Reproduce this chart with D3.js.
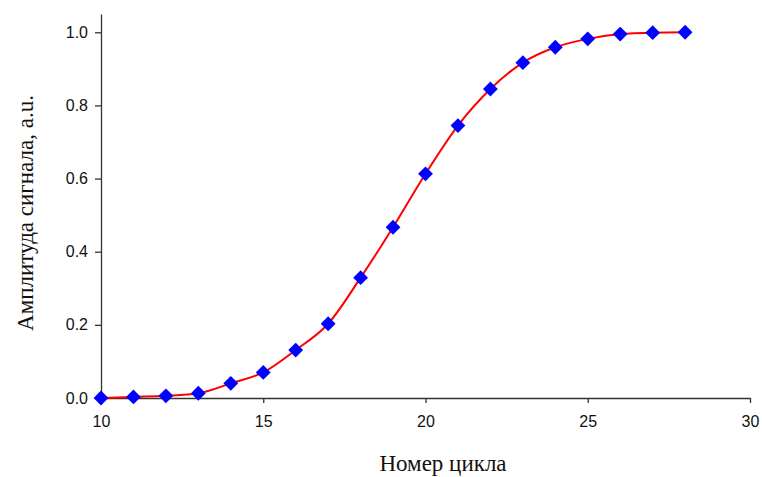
<!DOCTYPE html>
<html>
<head>
<meta charset="utf-8">
<script src="https://cdn.jsdelivr.net/npm/d3@7"></script>
<style>
  body { margin: 0; background: #fff; }
  .axis text { font-family: "Liberation Sans", Arial, sans-serif; font-size: 16px; fill: #111; }
  .axis path, .axis line { stroke: #333; stroke-width: 1.3px; }
  .title { font-family: "Liberation Serif", "Times New Roman", serif; font-size: 23px; fill: #111; }
</style>
</head>
<body>
<svg id="chart" width="762" height="477"></svg>
<script>
var cycles = [10, 11, 12, 13, 14, 15, 16, 17, 18, 19, 20, 21, 22, 23, 24, 25, 26, 27, 28];
var amplitude = [0.0, 0.003, 0.006, 0.013, 0.040, 0.070, 0.131, 0.203, 0.329, 0.467, 0.613,
                 0.745, 0.845, 0.917, 0.959, 0.982, 0.995, 0.999, 1.0];
var xTicks = [10, 15, 20, 25, 30];
var yTicks = [0, 0.2, 0.4, 0.6, 0.8, 1.0];

var svg = d3.select('#chart');

var x = d3.scaleLinear().domain([10, 30]).range([101, 750]);
var y = d3.scaleLinear().domain([0, 1.05]).range([398, 14]);

var data = cycles.map(function(c, i) { return {x: c, y: amplitude[i]}; });

svg.append("g")
  .attr("class", "axis x")
  .attr("transform", "translate(0,398)")
  .call(d3.axisBottom(x).tickValues(xTicks).tickSize(5).tickSizeOuter(0).tickPadding(13));

svg.append("g")
  .attr("class", "axis y")
  .attr("transform", "translate(101,0)")
  .call(d3.axisLeft(y).tickValues(yTicks).tickFormat(d3.format(".1f")).tickSize(6).tickSizeOuter(0).tickPadding(7));

var line = d3.line()
  .x(function(d) { return x(d.x); })
  .y(function(d) { return y(d.y); })
  .curve(d3.curveMonotoneX);

svg.append("path")
  .datum(data)
  .attr("d", line)
  .attr("fill", "none")
  .attr("stroke", "#ff0000")
  .attr("stroke-width", 2);

var diamond = d3.symbol().type(d3.symbolSquare).size(110);
svg.selectAll(".pt")
  .data(data)
  .enter().append("path")
  .attr("class", "pt")
  .attr("d", diamond)
  .attr("transform", function(d) { return "translate(" + x(d.x) + "," + y(d.y) + ") rotate(45)"; })
  .attr("fill", "#0000ff");

svg.append("text")
  .attr("class", "title")
  .attr("transform", "translate(33,213) rotate(-90)")
  .attr("text-anchor", "middle")
  .text("Амплитуда сигнала, a.u.");

svg.append("text")
  .attr("class", "title")
  .attr("x", 443)
  .attr("y", 471)
  .attr("text-anchor", "middle")
  .text("Номер цикла");
</script>
</body>
</html>
